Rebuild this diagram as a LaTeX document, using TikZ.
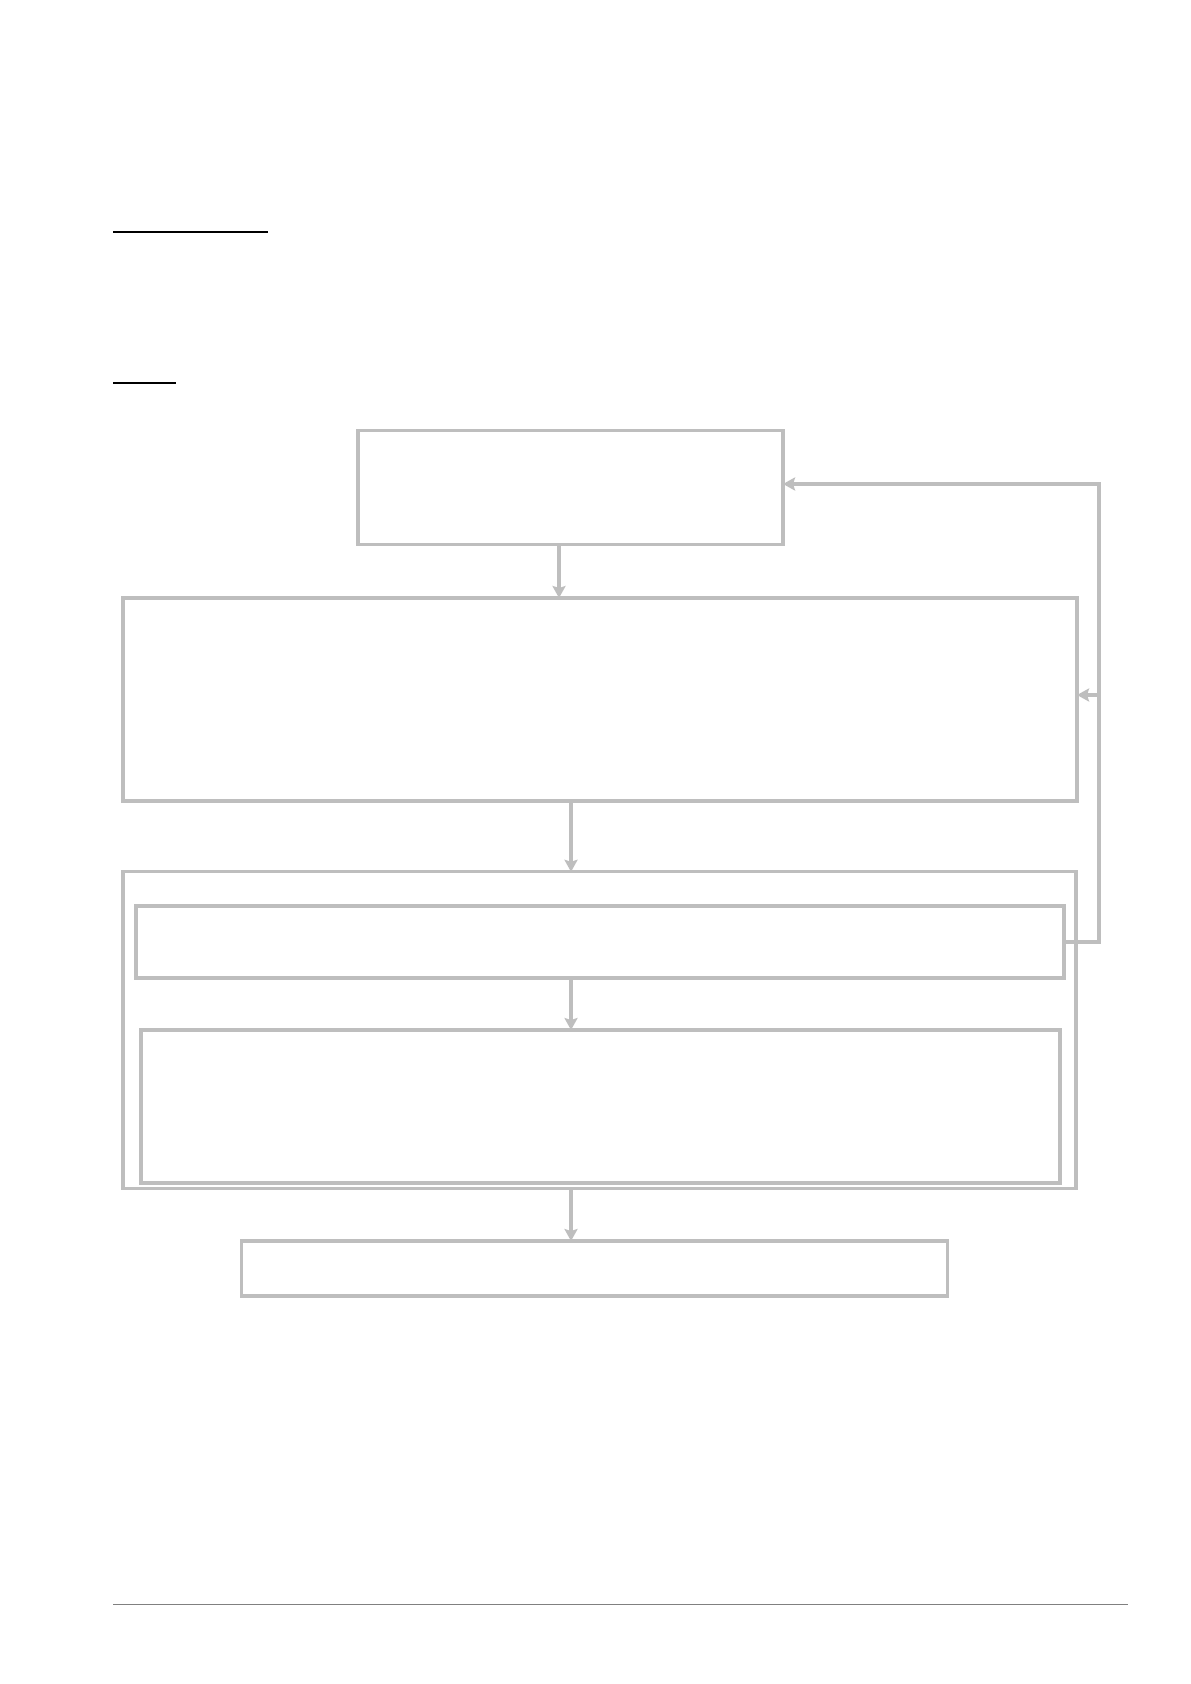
\documentclass[tikz,border=0pt]{standalone}
\usepackage{tikz}
\usetikzlibrary{arrows.meta,calc}

\definecolor{boxgray}{RGB}{190,190,190}
\definecolor{rulegray}{RGB}{128,128,128}

\tikzset{
    stepbox/.style={draw=boxgray,line width=1.6pt,inner sep=0pt,outer sep=0pt},
    flow/.style={->,draw=boxgray,line width=1.6pt},
}

\begin{document}
\begin{tikzpicture}[x=0.5pt,y=-0.5pt,>={Stealth[length=6pt,width=6.5pt,inset=1pt]}]

        % --- Page ---
        \useasboundingbox[fill=white] (0,0) rectangle (1190,1684);

        % headings (underlines only)
        \draw[line width=1pt] (113,232) -- (268,232);
        \draw[line width=0.7pt] (113,383) -- (176,383);

        % --- Boxes ---
        \node[stepbox,minimum width=212.5pt,minimum height=57pt] (start) at (570.5,487.5) {};
        \node[stepbox,minimum width=477pt,minimum height=101.5pt] (prep) at (600,699.5) {};
        \node[stepbox,minimum width=476.5pt,minimum height=158.5pt] (loop) at (599.5,1030.3) {};
        \node[stepbox,minimum width=464pt,minimum height=36pt] (check) at (600,942) {};
        \node[stepbox,minimum width=459.5pt,minimum height=76.5pt] (work) at (600.5,1106.5) {};
        \node[stepbox,minimum width=353pt,minimum height=27.5pt] (result) at (594.5,1268.5) {};

        % --- Arrows ---
        \coordinate (left) at (559,0);
        \coordinate (mid) at (571,0);
        \draw[flow] (left |- start.south) -- (left |- prep.north);
        \draw[flow] (mid |- prep.south) -- (mid |- loop.north);
        \draw[flow] (mid |- check.south) -- (mid |- work.north);
        \draw[flow] (mid |- loop.south) -- (mid |- result.north);

        % Feedback to the top
        \coordinate (fb) at (1099,484);
        \draw[flow] (check.east) -| (fb) -- (fb -| start.east);
        \draw[flow] (fb |- 0,695) -- (prep.east |- 0,695);

        % footer rule
        \draw[rulegray,line width=0.5pt] (113,1604) -- (1128,1604);

\end{tikzpicture}
\end{document}
